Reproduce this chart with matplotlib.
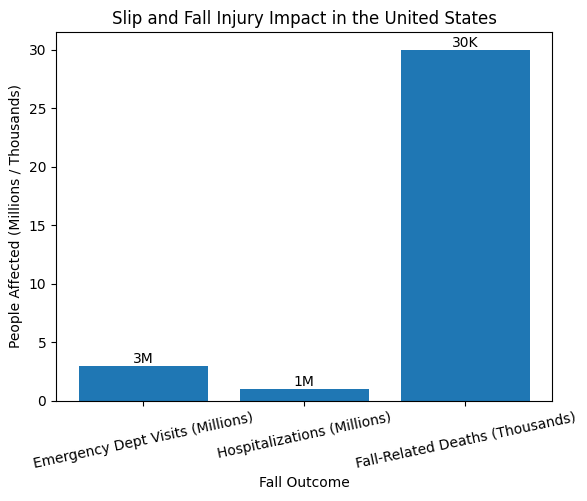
import matplotlib
matplotlib.use("Agg")
import matplotlib.pyplot as plt

outcomes = ["Emergency Dept Visits (Millions)", "Hospitalizations (Millions)", "Fall-Related Deaths (Thousands)"]
values = [3, 1, 30]
labels = ["3M", "1M", "30K"]

fig, ax = plt.subplots(figsize=(5.87, 5.01), dpi=100)
bars = ax.bar(outcomes, values, color="#1f77b4")
for b, lab in zip(bars, labels):
    ax.text(b.get_x() + b.get_width() / 2, b.get_height(), lab, ha="center", va="bottom")
ax.set_title("Slip and Fall Injury Impact in the United States")
ax.set_xlabel("Fall Outcome")
ax.set_ylabel("People Affected (Millions / Thousands)")
plt.xticks(rotation=12)
plt.subplots_adjust(left=0.0955, right=0.941, top=0.936, bottom=0.2)
plt.savefig("out.png")
